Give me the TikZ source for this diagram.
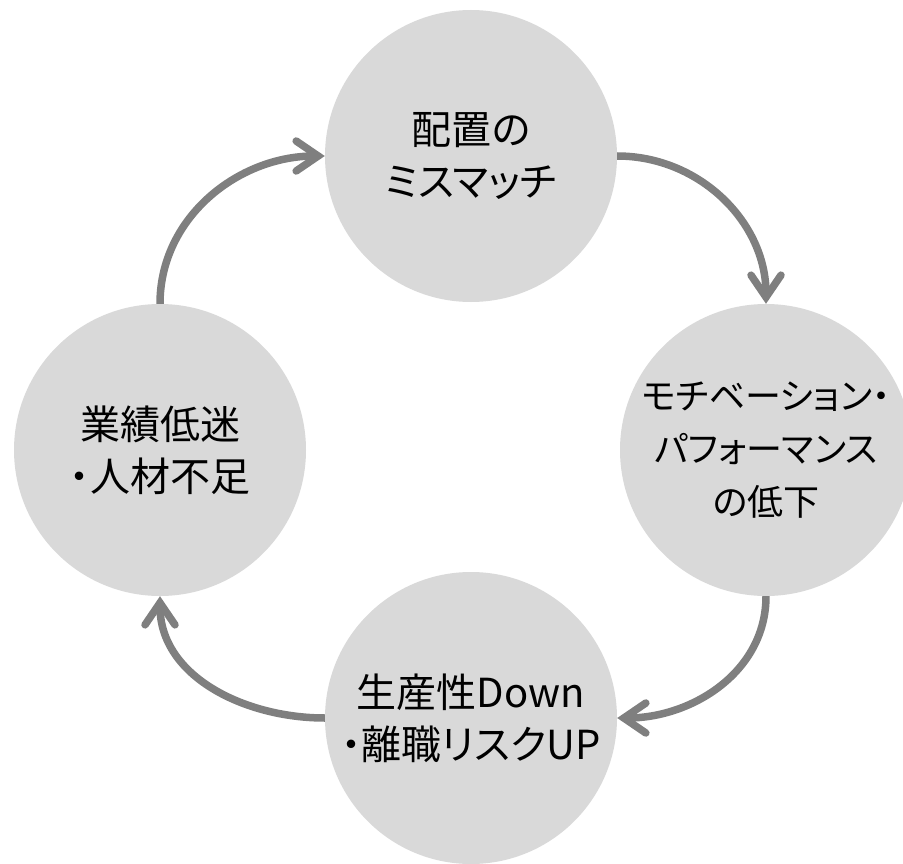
\documentclass[tikz,border=0pt]{standalone}
\usepackage{fontspec}
\setmainfont{Noto Sans CJK JP}[RawFeature={+palt}]
\usetikzlibrary{arrows.meta}
\definecolor{cfill}{HTML}{D9D9D9}
\definecolor{carrow}{HTML}{7F7F7F}
\begin{document}
\begin{tikzpicture}[x=1pt,y=1pt,
  bubble/.style={circle, fill=cfill, minimum size=292pt, inner sep=0pt, align=center,
    font=\fontsize{40}{52}\selectfont, text=black},
  cyc/.style={draw=carrow, line width=7.5pt,
    -{Straight Barb[length=22pt,width=30pt,line cap=round,line join=miter]}}]
\useasboundingbox (0,0) rectangle (903,-864);
\node[bubble] (t) at (471,-156) {配置の\\ミスマッチ};
\node[bubble, font=\fontsize{36}{53}\selectfont] (r) at (766,-450) {モチベーション・\\パフォーマンス\\の低下};
\node[bubble] (b) at (471,-718) {生産性Down\\・離職リスクUP};
\node[bubble] (l) at (160,-450) {業績低迷\\・人材不足};
\draw[cyc] (t.east) to[out=0,in=90] (r.north);
\draw[cyc] (r.south) to[out=-90,in=0] (b.east);
\draw[cyc] (b.west) to[out=180,in=-90] (l.south);
\draw[cyc] (l.north) to[out=90,in=180] (t.west);
\end{tikzpicture}
\end{document}
